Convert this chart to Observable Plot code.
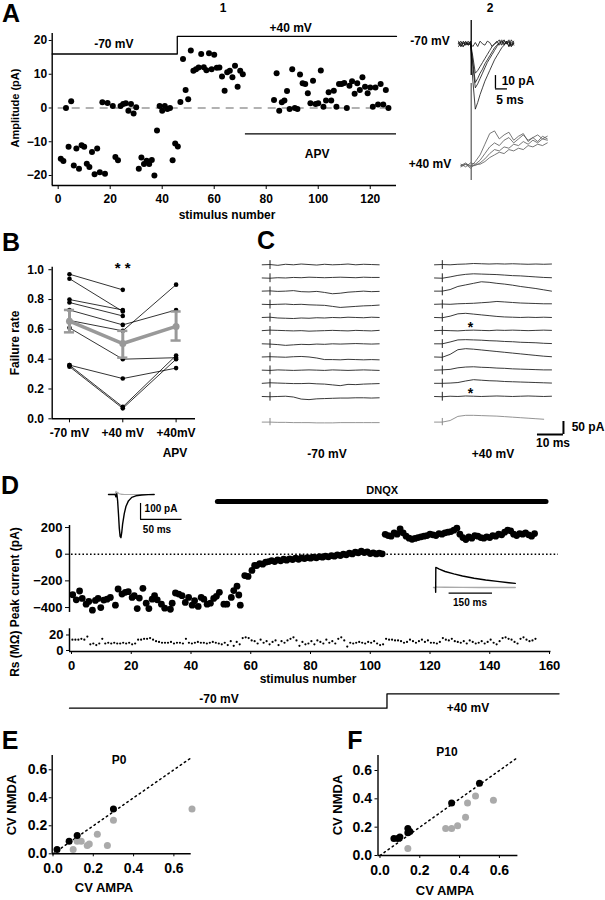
<!DOCTYPE html>
<html><head><meta charset="utf-8">
<script src="https://cdn.jsdelivr.net/npm/d3@7"></script>
<script src="https://cdn.jsdelivr.net/npm/@observablehq/plot@0.6"></script>
<style>
body{margin:0;background:#fff;}
#fig{position:relative;width:605px;height:900px;font-family:"Liberation Sans",Arial,sans-serif;font-weight:bold;color:#000;overflow:hidden;background:#fff}
.t{position:absolute;white-space:nowrap;transform:translate(-50%,-50%);line-height:1;}
</style></head>
<body><div id="fig"></div>
<script>
// ---------------- DATA ----------------
// Panel A1: amplitude (pA) per stimulus number
const aStimA = [1,2,3,4,5,6,7,8,9,10,11,12,13,14,15,16,17,18,19,21,22,23,24,25,26,27,28,29,30,31,32,33,34,35,36,37,38,39,40,41,42,43,44,45,46,47,48,49,50,51,52,53,54,55,56,57,58,59,60,61,62,63,64,65,66,67,68,69,70,71];
const aAmpA  = [-15,-15.7,0,-11.5,2,-17,-12,-18,-11,-11.5,-16.5,-17.5,-13,-19.6,-12,-19,1.7,-19.5,1.5,0.6,-14.5,-15.5,0.6,1.2,1.4,-0.8,1.2,-1.6,0.2,-18,-14.7,-16.6,-15.6,-16.6,-15.4,-20,-6.7,0.6,-0.8,0.6,-0.3,0,-15.5,-10.5,-11.4,1.8,14.5,5.3,2.6,17,11,11.5,12,16,12.1,11.2,16.2,11.5,15.8,11.9,12,9.3,5.1,10.6,11,9.1,12.5,6.3,11,10];
const aStimB = [83,84,85,86,87,88,89,90,91,92,93,94,95,96,97,98,99,100,101,102,103,104,105,106,107,108,109,110,111,112,113,114,115,116,117,118,119,120,121,122,123,124,125,126,127];
const aAmpB  = [2.4,10.3,-0.8,1.7,2.2,5,-0.3,11.5,0,-0.3,9.9,7.3,7.1,4.4,1.4,8.1,1.2,1.4,11.1,0.4,2.2,4.7,2.2,5.1,0.4,7.1,7.1,7.4,0,6.6,7.9,4.2,7.3,5.3,9.1,6.3,4.4,6.1,0.4,6.1,1,7.1,1,5.3,0];
const aVoltSwitch = 45.8;   // stimulus where holding potential changed
const aApvStart = 72;       // APV wash-in

// Panel A2: example traces (ms, pA)
const a2TimesNeg = [0,1,2,3,4,5,6,7,8,9,10,11,12,13,14,15,16,17,18,19,20,21,22,23];
const a2Neg = [
  [1,-2,2,-1,1,-1,-28,-49,-44,-38,-33,-28,-24,-20,-16,-12,-9,-6,-3,-1,2,-2,3,0],
  [0,2,-2,1,-1,2,-17,-33,-30,-26,-22,-18,-14,-11,-8,-5,-2,0,2,-1,1,3,-1,2],
  [-2,1,0,2,-1,0,-14,-29,-26,-22,-19,-15,-12,-9,-6,-3,-1,1,3,0,2,-2,1,-1],
  [2,-1,-2,1,0,1,-10,-22,-20,-17,-14,-11,-8,-5,-2,0,2,-1,1,3,0,2,-2,1],
  [0,-2,1,-1,2,0,-2,1,-2,2,0,-1,2,1,-2,0,1,3,-1,2,0,1,-2,0]
];
const a2TimesPos = [1,3,5,7,9,11,13,15,17,19,21,23,25,27,29,31,33,35,37];
const a2Pos = [
  [0,2,-1,3,8,16,24,26,20,23,25,19,22,24,18,21,23,20,22],
  [1,-1,2,1,4,9,14,17,15,19,21,17,20,23,19,21,18,22,20],
  [-1,1,0,0,2,5,9,12,11,14,13,16,15,18,16,19,17,20,19],
  [0,1,-2,1,1,3,6,8,10,9,12,11,13,12,15,14,16,15,17]
];

// Panel B: failure rates per cell
const bCond = ["-70 mV", "+40 mV", "+40mV"];
const bMinus70 = [0.97,0.94,0.80,0.78,0.73,0.66,0.61,0.36,0.36,0.35];
const bPlus40  = [0.865,0.72,0.73,0.69,0.63,0.59,0.40,0.27,0.08,0.07];
const bAPV     = [null,null,null,null,0.73,0.90,0.41,0.34,0.425,0.40];
const bMean = [0.655,0.505,0.62];
const bLo   = [0.58,0.41,0.525];
const bHi   = [0.73,0.59,0.72];

// Panel C: consecutive traces (ms, pA)
const cTimes = [0,3,6,9,12,15,18,21,24,27,30,33,36,39,42,45];
const cNeg = [
  [0,1,-2,2,0,3,1,-1,2,0,1,3,0,2,1,0],
  [0,-1,1,0,2,1,3,2,1,2,3,2,1,3,2,2],
  [0,1,-1,0,2,-2,-3,-1,-5,-10,-8,-4,-2,0,-2,-1],
  [0,-1,0,1,-1,0,-2,-3,-4,-8,-12,-10,-8,-6,-5,-3],
  [0,1,-2,-3,-4,-2,-3,-1,-2,0,-1,1,0,-1,1,0],
  [0,2,1,0,-1,0,-2,-1,0,1,0,-1,1,0,-1,1],
  [0,-1,-3,-6,-4,-2,-3,-1,-2,0,-1,0,1,0,-1,0],
  [0,1,0,-1,1,2,0,-4,-10,-10,-11,-9,-10,-11,-10,-11],
  [0,-1,1,0,-1,0,1,0,-1,1,0,-1,0,1,0,-1],
  [0,2,1,0,-1,-1,0,-2,-3,-6,-9,-4,-5,-3,-2,-1],
  [0,-1,0,1,-2,-10,-12,-9,-8,-7,-6,-6,-5,-5,-6,-5]
];
const cNegAvg = [0,0,-1,-1,-2,-2,-2,-3,-3,-3,-2,-2,-2,-2,-2,-2];
const cPos = [
  [0,1,0,2,3,5,4,3,4,3,4,3,2,3,2,3],
  [0,-1,4,10,14,16,15,14,13,11,9,8,6,4,2,1],
  [0,0,6,18,24,30,36,34,30,27,23,18,14,10,5,0],
  [0,1,0,2,3,4,6,8,11,9,7,5,4,3,2,2],
  [0,-1,5,14,16,13,10,7,4,2,1,0,1,0,1,0],
  [0,1,0,-1,1,2,1,0,2,1,2,1,0,1,2,1],
  [0,0,7,15,16,15,14,12,11,9,8,6,5,4,2,1],
  [0,-1,10,28,32,30,27,24,21,18,15,12,9,6,3,1],
  [0,1,3,9,12,13,11,10,8,7,5,4,3,2,1,1],
  [0,0,1,3,9,14,12,10,9,7,6,5,4,3,2,1],
  [0,-1,1,0,2,1,0,1,2,1,0,1,2,1,0,1]
];
const cPosAvg = [0,0,6,22,26,26,25,24,23,21,19,17,15,13,11];
const cStars = [5, 10];     // failure traces at +40 mV

// Panel D: peak current (pA) vs stimulus number
const dPeakEarly = [[0.4,-304],[1.6,-342],[2.7,-276],[3.6,-332],[4.9,-375],[5.8,-354],[7,-420],[8,-347],[8.9,-332],[9.8,-400],[10.8,-344],[11.9,-337],[13,-324],[14.7,-382],[15.6,-261],[16.9,-299],[18,-286],[19,-281],[20.3,-324],[21,-311],[22,-408],[22.7,-329],[23.9,-256],[25,-367],[25.9,-408],[27,-337],[27.8,-311],[28.7,-342],[30.1,-375],[31.2,-405],[33.1,-413],[33.7,-367],[34.8,-291],[35.9,-299],[37,-311],[38.1,-362],[39.2,-324],[40.4,-382],[41.2,-349],[42.4,-392],[43.4,-324],[44.3,-337],[45.4,-375],[46.5,-367],[47.6,-332],[48.5,-316],[49.5,-286],[51,-375],[52,-375],[53.5,-324],[54.3,-273],[55.4,-240],[56,-306],[56.5,-382],[58,-160],[59.1,-167],[60.4,-122],[61.3,-84]];
const dLateStart = 62;
const dPeakLate = [-85,-70,-75,-60,-55,-48,-55,-42,-50,-38,-45,-35,-40,-30,-38,-28,-33,-25,-30,-22,-27,-18,-22,-15,-20,-10,-15,-5,-10,0,-5,8,2,15,10,22,12,18,5,10,2,8,3,
  149,140,135,160,150,190,160,135,120,112,118,125,130,135,140,150,145,140,155,150,160,165,170,180,195,150,125,110,130,120,140,135,125,120,130,125,140,135,150,145,165,180,175,150,140,155,150,160,145,135,155];
const dRs = [14,14,14,15,14,18,8,9,7,9,15,9,10,9,10,9,9,10,9,10,8,9,14,14,15,15,16,14,12,11,10,10,10,11,9,10,10,9,15,10,9,10,11,10,10,9,10,11,10,9,8,10,7,12,6,11,8,16,17,16,13,12,9,14,10,12,8,11,13,7,12,10,13,15,17,13,6,11,8,9,12,8,13,11,9,14,10,12,9,15,17,13,5,10,9,10,11,10,9,11,10,12,9,7,8,15,14,14,13,13,12,10,11,14,12,10,12,14,11,13,10,10,9,11,16,14,13,15,12,11,10,12,9,13,11,9,10,12,9,11,14,10,8,12,16,17,15,14,11,9,15,17,14,12,13,15];
const dDnqx = [49, 159];
const dVoltSwitch = 105.6;
const dTicks = [0,20,40,60,80,100,120,140,160];
// D insets
const dIn1T     = [0,4,8,9,10,11,12,13,14,15,16,17,19,21,24,28,33,40,48,55];
const dIn1Black = [0,0,0,-15,5,-40,-120,-210,-262,-270,-235,-185,-120,-75,-40,-18,-8,-3,-1,0];
const dIn1Gray  = [0,0,0,20,10,14,8,5,3,2,1,1,0,0,0,0,0,0,0,0];
const dIn2BlackT = [7,7.5,8,10,20,40,70,100,140,180,220,260,282];
const dIn2Black  = [0,-30,125,124,115,100,85,72,58,47,38,30,26];
const dIn2GrayT  = [0,7,8,10,40,100,160,220,282];
const dIn2Gray   = [0,0,6,3,2,1,0,0,0];

// Panels E, F: CV of AMPA vs NMDA
const eBlack = [[0.02,0.03],[0.08,0.09],[0.12,0.13],[0.30,0.32]];
const eGray  = [[0.10,0.03],[0.12,0.09],[0.14,0.09],[0.17,0.06],[0.18,0.07],[0.22,0.14],[0.27,0.06],[0.30,0.24],[0.69,0.32]];
const fBlack = [[0.07,0.12],[0.09,0.12],[0.10,0.13],[0.14,0.19],[0.14,0.16],[0.15,0.17],[0.36,0.37],[0.50,0.51]];
const fGray  = [[0.14,0.05],[0.33,0.19],[0.36,0.19],[0.39,0.21],[0.43,0.27],[0.44,0.37],[0.48,0.42],[0.57,0.39]];
const cvTicks = [0,0.2,0.4,0.6];

// ---------------- HELPERS ----------------
const FONT = "'Liberation Sans', Arial, sans-serif";
const st = (fs) => ({background:"transparent", overflow:"visible", fontFamily:FONT, fontWeight:"bold", fontSize: fs+"px", color:"#000"});
const fig = document.getElementById("fig");
function put(svg, left, top){ svg.style.position="absolute"; svg.style.left=left+"px"; svg.style.top=top+"px"; fig.appendChild(svg); }
function label(txt, x, y, size, opt={}) {
  const d = document.createElement("div");
  d.className = "t"; d.textContent = txt;
  d.style.left = x+"px"; d.style.top = y+"px"; d.style.fontSize = size+"px";
  if (opt.rot) d.style.transform = "translate(-50%,-50%) rotate(-90deg)";
  if (opt.weight) d.style.fontWeight = opt.weight;
  fig.appendChild(d);
}
const pairs = (xs, ys) => xs.map((x,i)=>[x, ys[i]]);
function longTraces(traces, times, gap, base=0){
  return traces.flatMap((vals,i)=>vals.map((v,j)=>({t:times[j], v: base + v - gap*i, k:i})));
}

// ---------------- PANEL A1 ----------------
const aPts = pairs(aStimA, aAmpA).concat(pairs(aStimB, aAmpB));
const aX0 = -2.3, aX1 = 130.1, aY0 = -22.96, aY1 = 22.07;
put(Plot.plot({
  width: 400, height: 190, marginLeft: 51.7, marginRight: 4, marginTop: 13, marginBottom: 25,
  x: {domain:[aX0,aX1], ticks:[0,20,40,60,80,100,120], tickSize:4, tickPadding:5, label:null},
  y: {domain:[aY0,aY1], ticks:[-20,-10,0,10,20], tickSize:3, tickPadding:2, label:null},
  style: st(12),
  marks: [
    Plot.ruleY([0], {x1:0, x2:128.5, stroke:"#999", strokeWidth:1.3, strokeDasharray:"8,6"}),
    Plot.ruleX([aX0], {y1:aY0, y2:aY1, strokeWidth:1.4}),
    Plot.ruleY([aY0], {x1:aX0, x2:aX1, strokeWidth:1.4}),
    Plot.line([[aX0,16],[aVoltSwitch,16],[aVoltSwitch,21.2],[aX1,21.2]], {strokeWidth:1.3}),
    Plot.ruleY([-7.65], {x1:aApvStart, x2:aX1, strokeWidth:1.3}),
    Plot.text([{x:21.4,y:19,s:"-70 mV"},{x:89.4,y:23.8,s:"+40 mV"},{x:99.6,y:-13.8,s:"APV"}], {x:"x", y:"y", text:"s", fontSize:12, fontWeight:"bold"}),
    Plot.dot(aPts, {r:3, fill:"black"})
  ]
}), 0, 20);
label("A", 11, 13, 25, {weight:900});
label("1", 223, 8, 12);
label("2", 490, 8, 12);
label("Amplitude (pA)", 15, 108, 11, {rot:true});
label("stimulus number", 227, 215, 12);

// ---------------- PANEL A2 ----------------
put(Plot.plot({
  width: 110, height: 170, marginLeft: 8, marginRight: 6, marginTop: 0, marginBottom: 0,
  x: {domain:[0,40], axis:null}, y: {domain:[-110,17.5], axis:null},
  style: st(12),
  marks: [
    Plot.line(longTraces(a2Pos, a2TimesPos, 0, -91.3), {x:"t", y:"v", z:"k", stroke:"#555", strokeWidth:0.8}),
    Plot.line(longTraces(a2Neg, a2TimesNeg, 0), {x:"t", y:"v", z:"k", stroke:"#111", strokeWidth:0.8}),
    Plot.ruleX([5.3], {y1:-23.8, y2:17.5, strokeWidth:1.3}),
    Plot.ruleX([5.3], {y1:-102.5, y2:-29.8, stroke:"#666", strokeWidth:1.3}),
    Plot.ruleX([15.4], {y1:-33.8, y2:-23.8, strokeWidth:1.3}),
    Plot.ruleY([-33.8], {x1:15.4, x2:20.4, strokeWidth:1.3})
  ]
}), 450, 20);
label("-70 mV", 430, 41, 12);
label("+40 mV", 430, 164, 12);
label("10 pA", 518, 81, 12);
label("5 ms", 510, 100, 12);

// ---------------- PANEL B ----------------
const bLong = [];
bMinus70.forEach((v,i)=>{ [v, bPlus40[i], bAPV[i]].forEach((fr,c)=>{ if (fr!=null) bLong.push({cell:i, cond:c, fr}); }); });
const bM = bMean.map((m,i)=>({cond:i, mean:m, lo:bLo[i], hi:bHi[i]}));
const bX0 = -0.324, bX1 = 2.364, bY1 = 1.017;
put(Plot.plot({
  width: 200, height: 200, marginLeft: 51.7, marginRight: 5, marginTop: 11.7, marginBottom: 36.7,
  x: {domain:[bX0,bX1], ticks:[0,1,2], tickFormat: i=>bCond[i], tickSize:4, tickPadding:6, label:null},
  y: {domain:[0,bY1], ticks:[0,0.2,0.4,0.6,0.8,1.0], tickFormat: d3.format(".1f"), tickSize:3.3, tickPadding:5, label:null},
  style: st(12),
  marks: [
    Plot.ruleX([bX0], {y1:0, y2:bY1, strokeWidth:1.4}),
    Plot.ruleY([0], {x1:bX0, x2:bX1, strokeWidth:1.4}),
    Plot.line(bLong, {x:"cond", y:"fr", z:"cell", stroke:"black", strokeWidth:0.8}),
    Plot.dot(bLong, {x:"cond", y:"fr", r:2.3, fill:"black"}),
    Plot.ruleX(bM, {x:"cond", y1:"lo", y2:"hi", stroke:"#999", strokeWidth:3}),
    Plot.ruleY(bM, {y:"hi", x1:d=>d.cond-0.095, x2:d=>d.cond+0.095, stroke:"#999", strokeWidth:2.5}),
    Plot.ruleY(bM, {y:"lo", x1:d=>d.cond-0.095, x2:d=>d.cond+0.095, stroke:"#999", strokeWidth:2.5}),
    Plot.line(bM, {x:"cond", y:"mean", stroke:"#999", strokeWidth:3.5}),
    Plot.dot(bM, {x:"cond", y:"mean", r:3.5, fill:"#999"}),
    Plot.text([{x:1, y:1.01}], {x:"x", y:"y", text:()=>"* *", fontSize:15, fontWeight:"bold"})
  ]
}), 0, 255);
label("B", 11, 242, 25, {weight:900});
label("Failure rate", 15, 343, 12, {rot:true});
label("APV", 175, 453, 12);

// ---------------- PANEL C ----------------
const cGap = 50.65, cAvgBase = -605;
function cPlot(traces, avg, avgTimes, extra, w, ml, mr){
  const n = traces.length;
  const bases = traces.map((_,i)=>-cGap*i);
  return Plot.plot({
    width: w, height: 180, marginLeft: ml, marginRight: mr, marginTop: 1.5, marginBottom: 1.7,
    x: {domain:[0,45], axis:null}, y: {domain:[-650,30], axis:null},
    style: st(12),
    marks: [
      Plot.line(longTraces(traces, cTimes, cGap), {x:"t", y:"v", z:"k", stroke:"#222", strokeWidth:0.9}),
      Plot.line(avg.map((v,j)=>({t:avgTimes[j], v:cAvgBase+v})), {x:"t", y:"v", stroke:"#888", strokeWidth:0.9}),
      Plot.ruleX(bases, {x:3, y1:b=>b-18, y2:b=>b+16, stroke:"#222", strokeWidth:1}),
      Plot.ruleX([cAvgBase], {x:3, y1:b=>b-14, y2:b=>b+14, stroke:"#888", strokeWidth:1}),
      ...extra
    ]
  });
}
put(cPlot(cNeg, cNegAvg, cTimes, [], 130, 6.7, 6.3), 255, 255);
put(cPlot(cPos, cPosAvg, cTimes.slice(0, cPosAvg.length), [
  Plot.text(cStars, {x:13.8, y:k=>-cGap*k+12, text:()=>"*", fontSize:14, fontWeight:"bold"}),
  Plot.ruleX([49.6], {y1:-652.7, y2:-602.7, strokeWidth:2}),
  Plot.ruleY([-652.7], {x1:39.6, x2:49.6, strokeWidth:2})
], 145, 6, 22), 428, 255);
label("C", 266, 240, 25, {weight:900});
label("-70 mV", 327, 454, 12);
label("+40 mV", 493, 454, 12);
label("50 pA", 588, 427, 12);
label("10 ms", 553, 443, 12);

// ---------------- PANEL D ----------------
const dPts = dPeakEarly.concat(dPeakLate.map((v,i)=>[dLateStart+i, v]));
const dX0 = -0.67;
put(Plot.plot({
  width: 605, height: 140, marginLeft: 69, marginRight: 56, marginTop: 13.7, marginBottom: 6.3,
  x: {domain:[dX0,160], axis:null},
  y: {domain:[-450,450], ticks:[200,0,-200,-400], tickSize:4, tickPadding:3, label:null},
  style: st(13),
  marks: [
    Plot.ruleX([dX0], {y1:-437, y2:215, strokeWidth:1.5}),
    Plot.ruleY([0], {x1:0, x2:163, strokeWidth:1.6, strokeDasharray:"1.6,2.2"}),
    Plot.ruleY([395], {x1:dDnqx[0], x2:dDnqx[1], strokeWidth:5, strokeLinecap:"round"}),
    Plot.text([{x:(dDnqx[0]+dDnqx[1])/2, y:478}], {x:"x", y:"y", text:()=>"DNQX", fontSize:11, fontWeight:"bold"}),
    Plot.dot(dPts, {r:3.4, fill:"black"})
  ]
}), 0, 480);
put(Plot.plot({
  width: 605, height: 70, marginLeft: 69, marginRight: 56, marginTop: 8.3, marginBottom: 39,
  x: {domain:[dX0,160], ticks:dTicks, tickSize:3, tickPadding:6, label:null},
  y: {domain:[-1.3,28], ticks:[0,20], tickSize:3, tickPadding:3, label:null},
  style: st(13),
  marks: [
    Plot.ruleX([dX0], {y1:-1.3, y2:28, strokeWidth:1.5}),
    Plot.ruleY([-1.3], {x1:dX0, x2:160.5, strokeWidth:1.5}),
    Plot.dot(dRs.map((v,i)=>[i+0.3, v]), {r:1.1, fill:"black"})
  ]
}), 0, 620);
put(Plot.plot({
  width: 605, height: 30, marginLeft: 69, marginRight: 56, marginTop: 5.3, marginBottom: 10.3,
  x: {domain:[dX0,160], axis:null}, y: {domain:[-70,40], axis:null},
  style: st(12),
  marks: [ Plot.line([[dX0,-70],[dVoltSwitch,-70],[dVoltSwitch,40],[163.2,40]], {strokeWidth:1.3}) ]
}), 0, 688);
// inset 1
put(Plot.plot({
  width: 95, height: 60, marginLeft: 8, marginRight: 4, marginTop: 1, marginBottom: 3,
  x: {domain:[0,100], axis:null}, y: {domain:[-300,50], axis:null},
  style: st(10),
  marks: [
    Plot.line(pairs(dIn1T, dIn1Gray), {stroke:"#aaa", strokeWidth:1.2}),
    Plot.line(pairs(dIn1T, dIn1Black), {stroke:"black", strokeWidth:1.4}),
    Plot.ruleX([38.6], {y1:-156, y2:-56, strokeWidth:1.2}),
    Plot.ruleY([-156], {x1:38.6, x2:88.6, strokeWidth:1.2})
  ]
}), 100, 485);
// inset 2
put(Plot.plot({
  width: 100, height: 45, marginLeft: 8, marginRight: 5, marginTop: 5, marginBottom: 0,
  x: {domain:[0,300], axis:null}, y: {domain:[-100,150], axis:null},
  style: st(10),
  marks: [
    Plot.line(pairs(dIn2GrayT, dIn2Gray), {stroke:"#aaa", strokeWidth:1.4}),
    Plot.line(pairs(dIn2BlackT, dIn2Black), {stroke:"black", strokeWidth:1.4}),
    Plot.ruleY([-35.6], {x1:53.8, x2:203.4, strokeWidth:1.2})
  ]
}), 425, 558);
label("D", 10, 485, 25, {weight:900});
label("Rs (M\u03A9) Peak current (pA)", 15, 602, 12, {rot:true});
label("stimulus number", 308, 679, 12);
label("-70 mV", 219, 699, 12);
label("+40 mV", 468, 708, 12);
label("100 pA", 161, 509, 10);
label("50 ms", 157, 530, 10);
label("150 ms", 470, 603, 10);

// ---------------- PANELS E, F ----------------
function cvPlot(black, gray, xd, yd, ml, mr, mb, tpx, tpy){
  return Plot.plot({
    width: 200, height: 135, marginLeft: ml, marginRight: mr, marginTop: 10, marginBottom: mb,
    x: {domain:xd, ticks:cvTicks, tickFormat:d3.format(".1f"), tickSize:3, tickPadding:tpx, label:null},
    y: {domain:yd, ticks:cvTicks, tickFormat:d3.format(".1f"), tickSize:3, tickPadding:tpy, label:null},
    style: st(14),
    marks: [
      Plot.ruleX([xd[0]], {y1:yd[0], y2:yd[1], strokeWidth:1.4}),
      Plot.ruleY([yd[0]], {x1:xd[0], x2:xd[1], strokeWidth:1.4}),
      Plot.line([[0,0],[0.69,0.69]], {strokeWidth:1.5, strokeDasharray:"1.5,3.5"}),
      Plot.dot(gray, {r:3.5, fill:"#aaa"}),
      Plot.dot(black, {r:3.5, fill:"black"})
    ]
  });
}
put(cvPlot(eBlack, eGray, [-0.004,0.686], [0,0.702], 51.7, 9.3, 26.7, 6, 2), 0, 745);
put(cvPlot(fBlack, fGray, [-0.01,0.693], [0,0.706], 57.5, 2.6, 25, 7, 3), 320, 745);
label("E", 10, 740, 25, {weight:900});
label("P0", 119, 760, 12);
label("CV AMPA", 104, 887, 13);
label("CV NMDA", 11, 805, 13, {rot:true});
label("F", 355, 740, 25, {weight:900});
label("P10", 447, 752, 12);
label("CV AMPA", 445, 890, 13);
label("CV NMDA", 337, 805, 13, {rot:true});
</script>
</body></html>
